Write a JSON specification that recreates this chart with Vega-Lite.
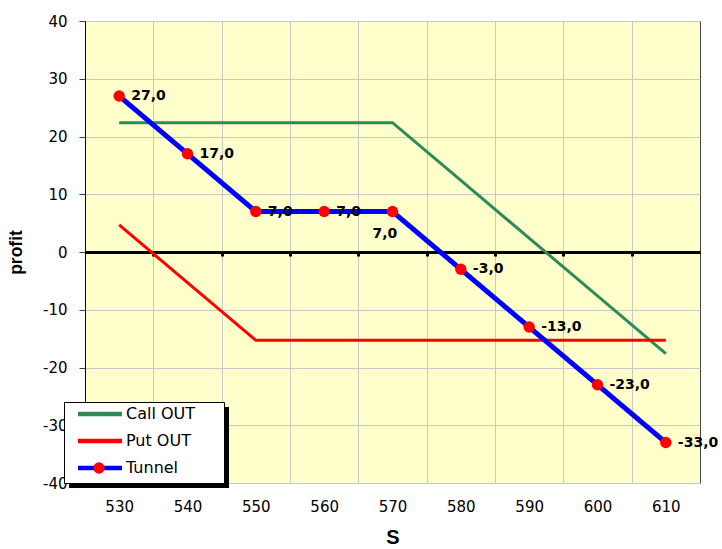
{
  "$schema": "https://vega.github.io/schema/vega-lite/v6.json",
  "width": 615,
  "height": 462,
  "autosize": "none",
  "padding": {"left": 85, "top": 21, "right": 22, "bottom": 66},
  "background": "white",
  "config": {
    "font": "Liberation Sans",
    "view": {"fill": "#ffffcc", "stroke": "#404040", "strokeWidth": 1}
  },
  "datasets": {
    "lines": [
      {"S": 530, "profit": 22.4, "series": "Call OUT"},
      {"S": 540, "profit": 22.4, "series": "Call OUT"},
      {"S": 550, "profit": 22.4, "series": "Call OUT"},
      {"S": 560, "profit": 22.4, "series": "Call OUT"},
      {"S": 570, "profit": 22.4, "series": "Call OUT"},
      {"S": 580, "profit": 12.4, "series": "Call OUT"},
      {"S": 590, "profit": 2.4, "series": "Call OUT"},
      {"S": 600, "profit": -7.6, "series": "Call OUT"},
      {"S": 610, "profit": -17.6, "series": "Call OUT"},
      {"S": 530, "profit": 4.7, "series": "Put OUT"},
      {"S": 540, "profit": -5.3, "series": "Put OUT"},
      {"S": 550, "profit": -15.3, "series": "Put OUT"},
      {"S": 560, "profit": -15.3, "series": "Put OUT"},
      {"S": 570, "profit": -15.3, "series": "Put OUT"},
      {"S": 580, "profit": -15.3, "series": "Put OUT"},
      {"S": 590, "profit": -15.3, "series": "Put OUT"},
      {"S": 600, "profit": -15.3, "series": "Put OUT"},
      {"S": 610, "profit": -15.3, "series": "Put OUT"},
      {"S": 530, "profit": 27, "series": "Tunnel", "label": "27,0"},
      {"S": 540, "profit": 17, "series": "Tunnel", "label": "17,0"},
      {"S": 550, "profit": 7, "series": "Tunnel", "label": "7,0"},
      {"S": 560, "profit": 7, "series": "Tunnel", "label": "7,0"},
      {"S": 570, "profit": 7, "series": "Tunnel", "label": "7,0"},
      {"S": 580, "profit": -3, "series": "Tunnel", "label": "-3,0"},
      {"S": 590, "profit": -13, "series": "Tunnel", "label": "-13,0"},
      {"S": 600, "profit": -23, "series": "Tunnel", "label": "-23,0"},
      {"S": 610, "profit": -33, "series": "Tunnel", "label": "-33,0"}
    ]
  },
  "data": {"name": "lines"},
  "resolve": {"axis": {"x": "independent"}},
  "layer": [
    {
      "transform": [{"filter": "datum.series !== 'Tunnel'"}],
      "mark": {"type": "line", "strokeCap": "butt", "strokeWidth": 3},
      "encoding": {
        "x": {
          "field": "S", "type": "quantitative",
          "scale": {"domain": [525, 615], "nice": false, "zero": false},
          "axis": {
            "orient": "bottom", "values": [530, 540, 550, 560, 570, 580, 590, 600, 610],
            "grid": false, "ticks": false, "domain": false,
            "labelFont": "DejaVu Sans", "labelFontSize": 15, "labelColor": "#000000", "labelPadding": 16,
            "title": "S", "titleFontSize": 20, "titleFontWeight": "bold", "titleColor": "#000000", "titlePadding": 13
          }
        },
        "y": {
          "field": "profit", "type": "quantitative",
          "scale": {"domain": [-40, 40], "nice": false},
          "axis": {
            "values": [-40, -30, -20, -10, 0, 10, 20, 30, 40],
            "labelExpr": "datum.value < 0 ? '-' + abs(datum.value) : '' + datum.value",
            "grid": true,
            "gridColor": {"condition": {"test": "datum.value === 0", "value": "transparent"}, "value": "#c8c8c8"},
            "gridWidth": 1,
            "domain": true, "domainColor": "#000000",
            "tickColor": "#404040", "tickSize": 6,
            "labelFont": "DejaVu Sans", "labelFontSize": 15, "labelColor": "#000000", "labelPadding": 12,
            "title": "profit", "titleFontSize": 17.5, "titleFontWeight": "bold", "titleColor": "#000000", "titlePadding": 17
          }
        },
        "color": {
          "field": "series", "type": "nominal",
          "scale": {"domain": ["Call OUT", "Put OUT", "Tunnel"], "range": ["#2e8b57", "#ff0000", "#0000ff"]},
          "legend": {
            "orient": "none", "legendX": -21, "legendY": 381, "zindex": 3,
            "title": null, "padding": 4,
            "symbolType": "M-4.4,0H4.4", "symbolSize": 100, "symbolStrokeWidth": 4.5,
            "symbolOffset": 24, "labelOffset": 18,
            "labelFont": "DejaVu Sans", "labelFontSize": 16, "labelColor": "#000000", "rowPadding": 9
          }
        },
        "opacity": {
          "field": "series", "type": "ordinal",
          "scale": {"range": [1, 1]},
          "legend": {
            "orient": "none", "legendX": -21, "legendY": 341.5, "zindex": 2,
            "values": ["Call OUT"],
            "title": null, "padding": 0, "symbolOffset": 0,
            "symbolType": "M-1,-0.5063H1V0.5063H-1Z", "symbolSize": 25600,
            "symbolFillColor": "#ffffff", "symbolStrokeColor": "#000000", "symbolStrokeWidth": 1,
            "labelExpr": "''", "labelFontSize": 1,
            "encode": {"symbols": {"update": {"fill": {"value": "#ffffff"}, "stroke": {"value": "#000000"}, "strokeWidth": {"value": 1}, "opacity": {"value": 1}}}}
          }
        }
      }
    },
    {
      "transform": [{"filter": "datum.series === 'Tunnel'"}],
      "mark": {"type": "line", "strokeCap": "butt", "strokeWidth": 5},
      "encoding": {
        "x": {"field": "S", "type": "quantitative", "axis": null},
        "y": {"field": "profit", "type": "quantitative"},
        "color": {"field": "series", "type": "nominal"},
        "strokeDash": {
          "field": "series", "type": "nominal",
          "scale": {"range": [[1, 0]]},
          "legend": {
            "orient": "none", "legendX": -16, "legendY": 346.5, "zindex": 1,
            "title": null, "padding": 0, "symbolOffset": 0,
            "symbolType": "M-1,-0.5063H1V0.5063H-1Z", "symbolSize": 25600,
            "symbolFillColor": "#000000", "symbolStrokeWidth": 0,
            "labelExpr": "''", "labelFontSize": 1,
            "encode": {"symbols": {"update": {"fill": {"value": "#000000"}, "stroke": {"value": "transparent"}, "opacity": {"value": 1}}}}
          }
        }
      }
    },
    {
      "transform": [{"filter": "datum.series === 'Tunnel'"}],
      "mark": {"type": "point", "shape": "circle", "filled": true, "size": 130, "opacity": 1},
      "encoding": {
        "x": {
          "field": "S", "type": "quantitative",
          "axis": {
            "orient": "top", "values": [535, 545, 555, 565, 575, 585, 595, 605],
            "grid": true, "gridColor": "#c8c8c8", "labels": false, "ticks": false, "domain": false, "title": null
          }
        },
        "y": {"field": "profit", "type": "quantitative"},
        "fill": {
          "field": "series", "type": "nominal",
          "scale": {"domain": ["Tunnel"], "range": ["#ff0000"]},
          "legend": {
            "orient": "none", "legendX": 8, "legendY": 441, "zindex": 4,
            "title": null, "padding": 0, "symbolType": "circle", "symbolSize": 130,
            "symbolStrokeWidth": 0, "labelExpr": "''", "labelFontSize": 1
          }
        }
      }
    },
    {
      "transform": [{"filter": "datum.series === 'Tunnel' && datum.S !== 570"}],
      "mark": {"type": "text", "align": "left", "baseline": "middle", "dx": 12, "font": "DejaVu Sans", "fontSize": 14, "fontWeight": "bold", "color": "#000000"},
      "encoding": {
        "x": {
          "field": "S", "type": "quantitative",
          "axis": {
            "orient": "bottom", "offset": -231, "values": [535, 545, 555, 565, 575, 585, 595, 605],
            "grid": false, "labels": false, "ticks": true, "tickColor": "#000000", "tickSize": 4, "tickWidth": 3,
            "domain": true, "domainColor": "#000000", "domainWidth": 3, "title": null
          }
        },
        "y": {"field": "profit", "type": "quantitative"},
        "text": {"field": "label"}
      }
    },
    {
      "transform": [{"filter": "datum.series === 'Tunnel' && datum.S === 570"}],
      "mark": {"type": "text", "align": "left", "baseline": "middle", "dx": -20, "dy": 22, "font": "DejaVu Sans", "fontSize": 14, "fontWeight": "bold", "color": "#000000"},
      "encoding": {
        "x": {"field": "S", "type": "quantitative", "axis": null},
        "y": {"field": "profit", "type": "quantitative"},
        "text": {"field": "label"}
      }
    }
  ]
}
